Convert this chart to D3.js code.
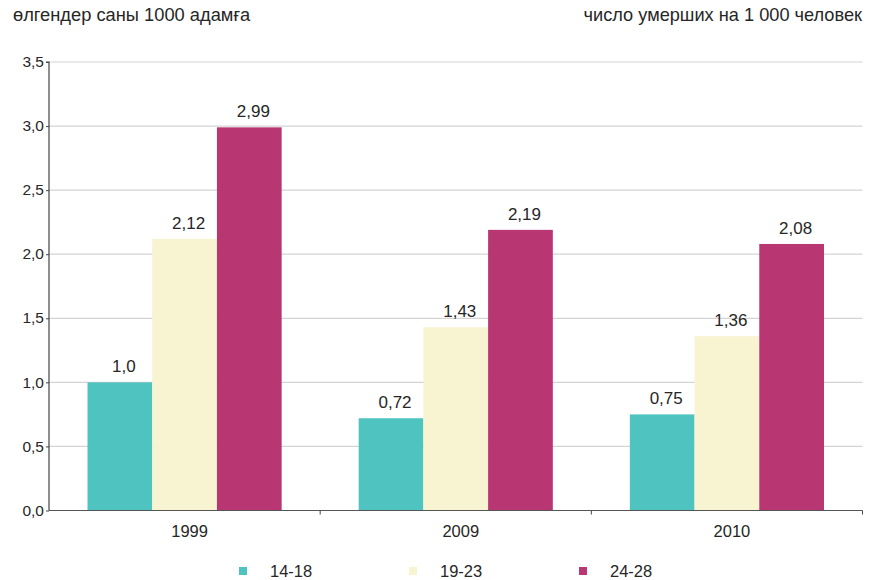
<!DOCTYPE html>
<html><head><meta charset="utf-8">
<script src="https://cdn.jsdelivr.net/npm/d3@7"></script>
<style>body{margin:0;background:#fff}svg{display:block}text{font-family:"Liberation Sans",Arial,sans-serif;fill:#262626}</style>
</head><body><svg id="c" width="877" height="580"></svg>
<script>
const years = ["1999", "2009", "2010"];
const groups = ["14-18", "19-23", "24-28"];
const v1418 = [1.0, 0.72, 0.75];
const v1923 = [2.12, 1.43, 1.36];
const v2428 = [2.99, 2.19, 2.08];
const valueLabels = [["1,0","2,12","2,99"],["0,72","1,43","2,19"],["0,75","1,36","2,08"]];
const yTicks = [0, 0.5, 1.0, 1.5, 2.0, 2.5, 3.0, 3.5];
const yTickLabels = ["0,0","0,5","1,0","1,5","2,0","2,5","3,0","3,5"];
const colors = ["#4fc3bf", "#f8f3d0", "#b83772"];
const titleLeft = "өлгендер саны 1000 адамға";
const titleRight = "число умерших на 1 000 человек";

const series = [v1418, v1923, v2428];
const svg = d3.select("#c");
const L = 49, R = 862.5, T = 62, B = 510.5;
const x0 = d3.scaleBand().domain(years).range([L, R]).paddingInner(0).paddingOuter(0);
const x1 = d3.scaleBand().domain(groups).range([0, x0.bandwidth()]).paddingInner(0).paddingOuter(0.595);
const y = d3.scaleLinear().domain([0, 3.5]).range([B, T]);

// gridlines
svg.append("g").selectAll("line").data(yTicks.filter(d => d > 0)).join("line")
  .attr("x1", L).attr("x2", R).attr("y1", d => y(d)).attr("y2", d => y(d))
  .attr("stroke", "#d4d4d4").attr("stroke-width", 1.2);

// bars
years.forEach((yr, i) => {
  const g = svg.append("g").attr("transform", `translate(${x0(yr)},0)`);
  groups.forEach((gr, j) => {
    const v = series[j][i];
    g.append("rect").attr("x", x1(gr)).attr("width", x1.bandwidth())
      .attr("y", y(v)).attr("height", B - y(v)).attr("fill", colors[j]);
    g.append("text").attr("x", x1(gr) + x1.bandwidth() / 2 + 4).attr("y", y(v) - 10)
      .attr("text-anchor", "middle").attr("font-size", 17).text(valueLabels[i][j]);
  });
});

// y axis
const yAxis = d3.axisLeft(y).tickValues(yTicks).tickFormat((d, i) => yTickLabels[i]).tickSize(3).tickPadding(2);
const ya = svg.append("g").attr("transform", `translate(${L},0)`).call(yAxis);
ya.select(".domain").attr("stroke", "#444").attr("stroke-width", 1.2).attr("d", `M-3,${T}H0V${B}`);
ya.selectAll(".tick line").attr("stroke", "#444");
ya.selectAll(".tick text").attr("font-size", 15.5).attr("font-family", '"Liberation Sans",Arial,sans-serif').attr("fill", "#262626").attr("dy", "0.3em");

// x axis
const xa = svg.append("g").attr("transform", `translate(0,${B})`);
xa.append("line").attr("x1", L).attr("x2", R).attr("y1", 0).attr("y2", 0).attr("stroke", "#555").attr("stroke-width", 1.2);
xa.selectAll(".tk").data(years.slice(1).map(d => x0(d)).concat([R])).join("line")
  .attr("x1", d => d).attr("x2", d => d).attr("y1", 0).attr("y2", 4).attr("stroke", "#444");
xa.selectAll(".lbl").data(years).join("text")
  .attr("x", d => x0(d) + x0.bandwidth() / 2 + 5).attr("y", 26)
  .attr("text-anchor", "middle").attr("font-size", 16.5).text(d => d);

// titles
svg.append("text").attr("x", 13).attr("y", 21).attr("font-size", 18.3).text(titleLeft);
svg.append("text").attr("x", 862).attr("y", 21).attr("text-anchor", "end").attr("font-size", 18.2).text(titleRight);

// legend
const legX = [239, 409, 579];
groups.forEach((gr, j) => {
  svg.append("rect").attr("x", legX[j]).attr("y", 567).attr("width", 8).attr("height", 8).attr("fill", colors[j]);
  svg.append("text").attr("x", legX[j] + 31).attr("y", 577).attr("font-size", 16.5).text(gr);
});
</script></body></html>
